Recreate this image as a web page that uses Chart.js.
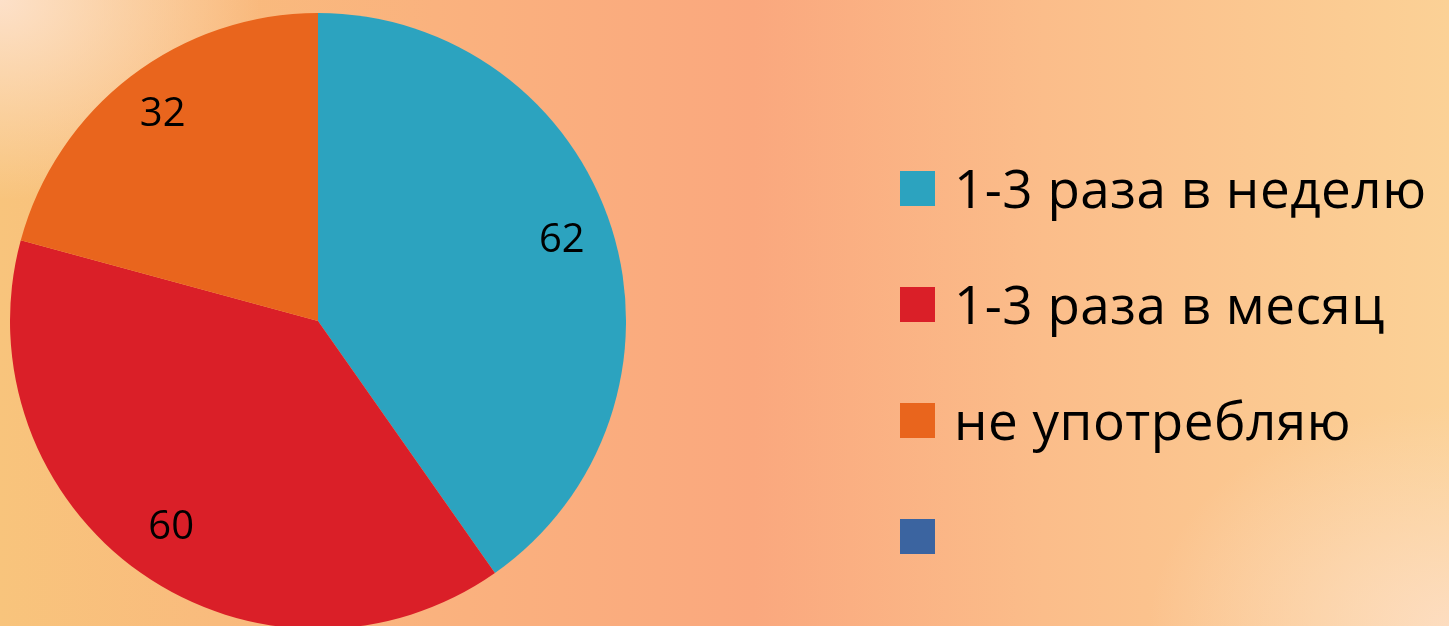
<!DOCTYPE html>
<html>
<head>
<meta charset="utf-8">
<script src="https://cdn.jsdelivr.net/npm/chart.js@4"></script>
<style>
    html, body {
        margin: 0;
        width: 1449px;
        height: 626px;
        overflow: hidden;
    }
    body {
        position: relative;
        font-family: "Open Sans", "Noto Sans", sans-serif;
        background:
            radial-gradient(ellipse 260px 200px at 0 0, rgba(253, 226, 205, 0.95), rgba(253, 226, 205, 0) 100%),
            radial-gradient(ellipse 300px 220px at 100% 100%, rgba(253, 222, 196, 0.9), rgba(253, 222, 196, 0) 100%),
            linear-gradient(to right, #f8c47c 0%, #fab27e 30%, #faa87e 52%, #fbbd8a 72%, #fbd196 100%);
    }
    #pie-wrap {
        position: absolute;
        left: 10px;
        top: 13px;
        width: 616px;
        height: 616px;
    }
    #legend {
        position: absolute;
        left: 900px;
        top: 170px;
    }
    .legend-item {
        display: flex;
        align-items: center;
        height: 36px;
        margin-bottom: 80px;
        white-space: nowrap;
    }
    .legend-box {
        width: 35px;
        height: 35px;
        margin-right: 19px;
        flex: none;
    }
    .legend-text {
        font-size: 53px;
        letter-spacing: 0.5px;
        color: #000;
        line-height: 36px;
        position: relative;
        top: 0px;
    }
</style>
</head>
<body>
<div id="pie-wrap"><canvas id="pieChart"></canvas></div>
<div id="legend"></div>
<script>
    // --- Données ---
    const categories = ['1-3 раза в неделю', '1-3 раза в месяц', 'не употребляю', ''];
    const values = [62, 60, 32, 0];
    const colors = ['#2ca3bf', '#da1f28', '#e9651d', '#3b64a0'];

    // Petit plugin pour écrire les valeurs dans les parts
    const valueLabels = {
        id: 'valueLabels',
        afterDatasetsDraw(chart) {
            const ctx = chart.ctx;
            const meta = chart.getDatasetMeta(0);
            ctx.save();
            ctx.font = '40px "Open Sans", "Noto Sans", sans-serif';
            ctx.fillStyle = '#000';
            ctx.textAlign = 'center';
            ctx.textBaseline = 'middle';
            meta.data.forEach((arc, i) => {
                if (!values[i]) {
                    return;
                }
                const mid = (arc.startAngle + arc.endAngle) / 2;
                const r = arc.outerRadius * 0.83;
                ctx.fillText(String(values[i]), arc.x + Math.cos(mid) * r, arc.y + Math.sin(mid) * r - 3);
            });
            ctx.restore();
        }
    };

    new Chart(document.getElementById('pieChart'), {
        type: 'pie',
        data: {
            labels: categories,
            datasets: [{
                data: values,
                backgroundColor: colors,
                borderWidth: 0
            }]
        },
        options: {
            responsive: true,
            maintainAspectRatio: false,
            animation: false,
            layout: { padding: 0 },
            plugins: {
                legend: { display: false },
                tooltip: { enabled: false }
            }
        },
        plugins: [valueLabels]
    });

    // --- Légende HTML ---
    const legend = document.getElementById('legend');
    categories.forEach((label, i) => {
        const item = document.createElement('div');
        item.className = 'legend-item';
        item.innerHTML = `<div class="legend-box" style="background:${colors[i]}"></div><span class="legend-text">${label}</span>`;
        legend.appendChild(item);
    });
</script>
</body>
</html>
